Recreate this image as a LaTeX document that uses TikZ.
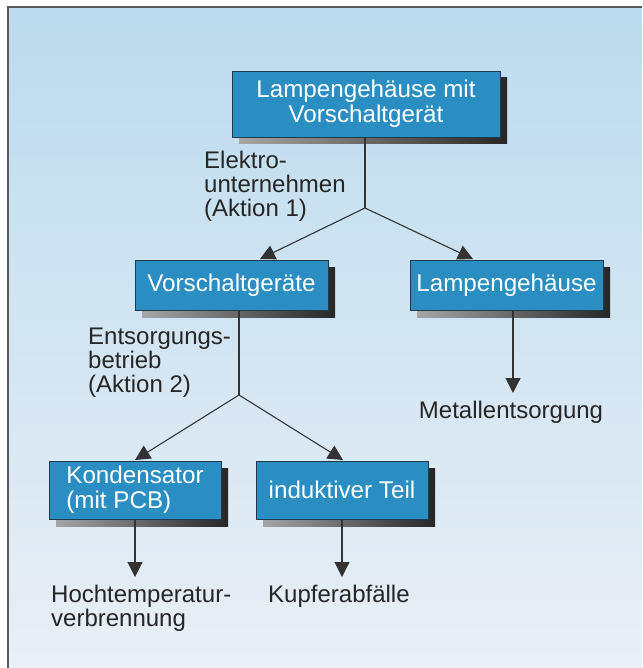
\documentclass[tikz,border=0pt]{standalone}
\usepackage{fontspec}
\setmainfont{Liberation Sans}
\usetikzlibrary{arrows.meta,shadows}
\definecolor{bgtop}{HTML}{BCDBEE}
\definecolor{bgbot}{HTML}{E9EFF6}
\definecolor{boxblue}{HTML}{2B8EC3}
\definecolor{boxedge}{HTML}{1E3A4C}
\definecolor{linecol}{HTML}{333333}
\definecolor{framecol}{HTML}{5A5A5A}
\begin{document}
\begin{tikzpicture}[x=1pt,y=-1pt,
  bx/.style={draw=boxedge, line width=0.8pt, fill=boxblue, text=white,
    inner sep=0pt, align=center,
    font=\fontsize{24.2}{25}\selectfont,
    drop shadow={shadow xshift=7pt, shadow yshift=-7pt, opacity=1,
      left color=black!35, right color=black!85, draw=none}},
  lbl/.style={inner sep=0pt, text=black!85, align=left,
    font=\fontsize{24}{24}\selectfont},
  conn/.style={draw=linecol, line width=1.1pt},
  arr/.style={conn, -{Triangle[length=15pt,width=15pt]}}
]
\useasboundingbox (0,0) rectangle (642,668);
\fill[white] (0,0) rectangle (642,668);
\shade[top color=bgtop, bottom color=bgbot] (8,7) rectangle (642,668);
\draw[framecol, line width=1.8pt] (8,668) -- (8,7) -- (642,7);

% boxes
\node[bx, minimum width=268pt, minimum height=66pt] (top) at (366,104)
  {Lampengehäuse mit\\Vorschaltgerät};
\node[bx, minimum width=193pt, minimum height=50pt] (vor) at (231.5,285)
  {Vorschaltgeräte};
\node[bx, minimum width=193pt, minimum height=50pt] (lamp) at (506.5,285)
  {Lampengehäuse};
\node[bx, minimum width=172pt, minimum height=58pt, align=left] (kond) at (135,490)
  {Kondensator\\(mit PCB)};
\node[bx, minimum width=172pt, minimum height=58pt] (ind) at (342,490)
  {induktiver Teil};

% labels
\node[lbl, anchor=north west] (l1) at (204,151) {Elektro-\\unternehmen\\(Aktion 1)};
\node[lbl, anchor=north west] (l2) at (88,328) {Entsorgungs-\\betrieb\\(Aktion 2)};
\node[lbl, anchor=base] (metal) at (511,418) {Metallentsorgung};
\node[lbl, anchor=north west] (hoch) at (51,585) {Hochtemperatur-\\verbrennung};
\node[lbl, anchor=base west] (kupf) at (268,602) {Kupferabfälle};

% junctions
\coordinate (j1) at (365,208);
\coordinate (j2) at (239,395);
\coordinate (t1l) at (260,259);
\coordinate (t1r) at (473,259);
\coordinate (t2l) at (135,460);
\coordinate (t2r) at (343,460);

\draw[conn] (top.south -| j1) -- (j1);
\draw[arr] (j1) -- (t1l);
\draw[arr] (j1) -- (t1r);
\draw[conn] (vor.south -| j2) -- (j2);
\draw[arr] (j2) -- (t2l);
\draw[arr] (j2) -- (t2r);
\coordinate (lx) at (513,0);
\draw[arr] (lamp.south -| lx) -- (513,393);
\draw[arr] (kond.south) -- (135,577);
\draw[arr] (ind.south) -- (342,577);
\end{tikzpicture}
\end{document}
